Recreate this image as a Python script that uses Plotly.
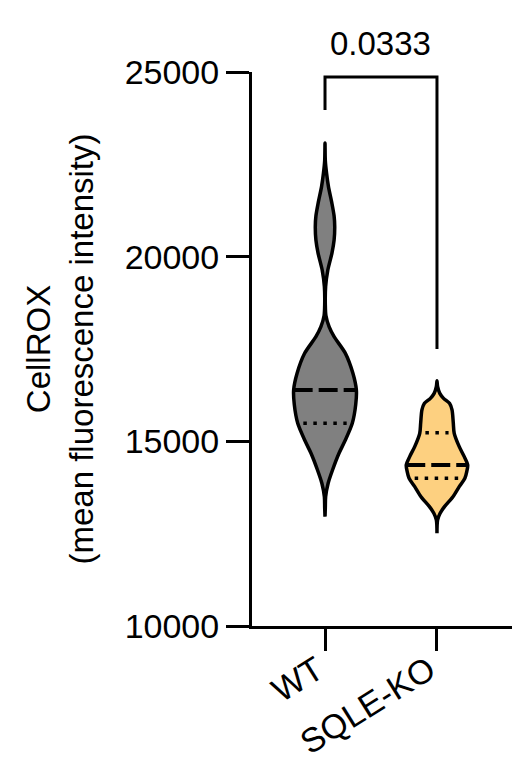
import numpy as np
import plotly.graph_objects as go

# ---- data ----
categories = ["WT", "SQLE-KO"]

# density profiles: intensity levels and relative half-width (violin density)
wt_levels = [23080, 22600, 22257, 21896, 21445, 21100, 20813, 20450, 20091, 19639,
             19188, 18700, 18400, 18105, 17834, 17383, 16842, 16390, 16000, 15488,
             15000, 14683, 14224, 13864, 13500, 13200, 12960]
wt_density = [0.0, 0.01, 0.05, 0.11, 0.22, 0.29, 0.31, 0.29, 0.22, 0.09,
              0.02, 0.01, 0.03, 0.13, 0.29, 0.65, 0.89, 1.0, 0.98, 0.87,
              0.63, 0.45, 0.24, 0.10, 0.02, 0.01, 0.0]

ko_levels = [16642, 16480, 16299, 16164, 16029, 15850, 15500, 15217, 14857, 14586,
             14360, 14180, 13999, 13773, 13502, 13232, 13052, 12871, 12510]
ko_density = [0.0, 0.02, 0.09, 0.21, 0.40, 0.48, 0.52, 0.55, 0.71, 0.87,
              0.98, 0.95, 0.89, 0.71, 0.51, 0.24, 0.10, 0.02, 0.0]

medians = [16390, 14360]
lower_quartiles = [15488, 13999]
upper_quartiles = [19400, 15233]

p_value_text = "0.0333"
bracket_low_left = 23972
bracket_top = 24866
bracket_low_right = 17500
p_text_level = 25760

y_ticks = [10000, 15000, 20000, 25000]
y_range = [10000, 25000]

fills = ["#808080", "#FDD080"]
MAXW = 0.28  # half-width in category units for density 1
FONT = "Arial, Liberation Sans, Helvetica, sans-serif"

fig = go.Figure()
profiles = [(wt_levels, wt_density), (ko_levels, ko_density)]
for i, (lv, dn) in enumerate(profiles):
    lv = np.array(lv, float)
    dn = np.array(dn, float)
    xs = np.concatenate([i + MAXW * dn, (i - MAXW * dn)[::-1]])
    ys = np.concatenate([lv, lv[::-1]])
    fig.add_trace(go.Scatter(x=xs, y=ys, mode="lines", fill="toself",
                             fillcolor=fills[i],
                             line=dict(color="black", width=3.5, shape="spline", smoothing=0.8),
                             hoverinfo="skip", showlegend=False))
    order = np.argsort(lv)

    def hw(v):
        return MAXW * np.interp(v, lv[order], dn[order])
    m = medians[i]
    fig.add_trace(go.Scatter(x=[i - hw(m), i + hw(m)], y=[m, m], mode="lines",
                             line=dict(color="black", width=4, dash="19px,6px"),
                             hoverinfo="skip", showlegend=False))
    for q in (lower_quartiles[i], upper_quartiles[i]):
        w = hw(q) - 0.05
        if w > 0:
            fig.add_trace(go.Scatter(x=[i - w, i + w], y=[q, q], mode="lines",
                                     line=dict(color="black", width=3.5, dash="3.5px,6.5px"),
                                     hoverinfo="skip", showlegend=False))

# significance bracket
fig.add_trace(go.Scatter(x=[0, 0, 1, 1],
                         y=[bracket_low_left, bracket_top, bracket_top, bracket_low_right],
                         mode="lines", line=dict(color="black", width=3),
                         hoverinfo="skip", showlegend=False))
fig.add_annotation(x=0.5, xref="x",
                   y=(p_text_level - y_range[0]) / (y_range[1] - y_range[0]), yref="paper",
                   text=p_value_text, showarrow=False, yanchor="middle",
                   font=dict(family=FONT, size=33, color="black"))

fig.update_layout(
    width=532, height=780,
    margin=dict(l=244, r=28, t=64, b=162),
    plot_bgcolor="white", paper_bgcolor="white",
    font=dict(family=FONT, size=34, color="black"),
    xaxis=dict(range=[-0.652, 1.67], tickvals=[0, 1], ticktext=categories,
               tickangle=-32, ticks="outside", ticklen=22, tickwidth=3,
               tickcolor="black", showline=True, linewidth=3, linecolor="black",
               showgrid=False, zeroline=False, automargin=False,
               ticklabelstandoff=-14, ticklabelshift=-8),
    yaxis=dict(range=y_range, tickvals=y_ticks, ticktext=[str(t) for t in y_ticks],
               ticks="outside", ticklen=23, tickwidth=3, tickcolor="black",
               showline=True, linewidth=3, linecolor="black",
               showgrid=False, zeroline=False, automargin=False,
               title=dict(text="CellROX<br>(mean fluorescence intensity)", standoff=22,
                          font=dict(size=33))),
)

fig.write_html("out.html")
